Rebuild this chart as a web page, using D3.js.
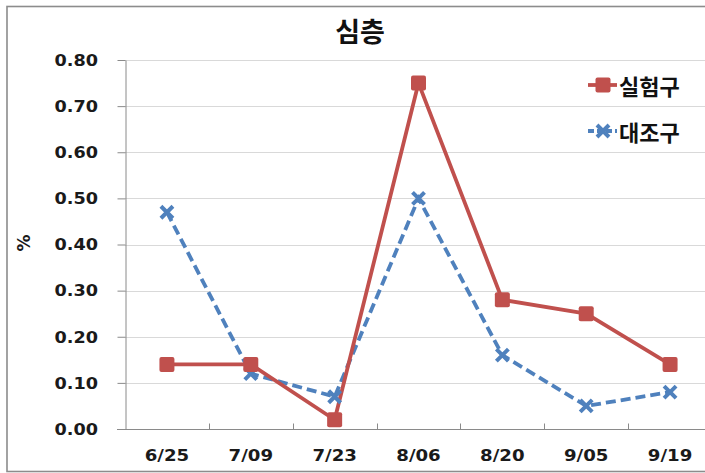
<!DOCTYPE html>
<html>
<head>
<meta charset="utf-8">
<script src="https://cdn.jsdelivr.net/npm/d3@7"></script>
<style>
  html, body { margin: 0; padding: 0; background: #fff; }
  svg { display: block; }
</style>
</head>
<body>
<svg id="chart" width="705" height="473"></svg>
<script>
// Sampling dates and measured percentages for the deep layer
const categories = ["6/25", "7/09", "7/23", "8/06", "8/20", "9/05", "9/19"];
const expValues  = [0.14, 0.14, 0.02, 0.75, 0.28, 0.25, 0.14];   // 실험구
const ctrlValues = [0.47, 0.12, 0.07, 0.50, 0.16, 0.05, 0.08];   // 대조구
const yTicks     = [0.00, 0.10, 0.20, 0.30, 0.40, 0.50, 0.60, 0.70, 0.80];
const seriesNames = ["실험구", "대조구"];
const titleText = "심층";
const yLabel = "%";

const svg = d3.select("#chart");
const W = 705, H = 473;

const RED = "#C0504D", BLUE = "#4F81BD";
const AXIS = "#8a8a8a", GRID = "#d9d9d9";
const numFont = "'DejaVu Sans', Verdana, sans-serif";
const korFont = "'Noto Sans CJK KR', 'Noto Sans', sans-serif";

// outer chart frame
svg.append("rect")
  .attr("x", 7).attr("y", 6.5)
  .attr("width", W + 20).attr("height", 465)
  .attr("fill", "#fff")
  .attr("stroke", "#8c8c8c").attr("stroke-width", 1.6);

const plot = { left: 125, top: 60, bottom: 429, right: 712 };

const x = d3.scaleBand().domain(categories).range([plot.left, plot.right]).padding(0);
const y = d3.scaleLinear().domain([0, 0.8]).range([plot.bottom, plot.top]);
const cx = d => x(d) + x.bandwidth() / 2;

// horizontal gridlines
svg.append("g").selectAll("line")
  .data(yTicks.filter(t => t > 0))
  .join("line")
  .attr("x1", plot.left).attr("x2", W)
  .attr("y1", d => Math.round(y(d)) + 0.5).attr("y2", d => Math.round(y(d)) + 0.5)
  .attr("stroke", GRID).attr("stroke-width", 1);

// y axis with outward ticks
const yAxis = svg.append("g")
  .attr("transform", `translate(${plot.left + 0.5},0)`)
  .call(d3.axisLeft(y).tickValues(yTicks).tickSize(8).tickSizeOuter(0).tickFormat(""));
yAxis.selectAll("line").attr("stroke", AXIS);
yAxis.select(".domain").attr("stroke", AXIS);

// y tick labels, slightly widened
svg.append("g").selectAll("text")
  .data(yTicks)
  .join("text")
  .attr("transform", d => `translate(98,${y(d)}) scale(1.07,1)`)
  .attr("text-anchor", "end")
  .attr("dominant-baseline", "central")
  .attr("font-family", numFont).attr("font-weight", "bold")
  .attr("font-size", 16.5).attr("fill", "#1a1a1a")
  .text(d => d3.format(".2f")(d));

// x axis: baseline plus inward ticks at category boundaries
const xAxis = svg.append("g")
  .attr("transform", `translate(0,${plot.bottom + 0.5})`)
  .call(d3.axisTop(x).tickSize(0).tickSizeOuter(0).tickFormat(""));
xAxis.select(".domain").remove();
xAxis.append("line")
  .attr("x1", plot.left - 8).attr("x2", W)
  .attr("stroke", AXIS);
xAxis.selectAll(".bnd")
  .data(categories.slice(1))
  .join("line").attr("class", "bnd")
  .attr("x1", d => Math.round(x(d)) + 0.5).attr("x2", d => Math.round(x(d)) + 0.5)
  .attr("y1", 0).attr("y2", -6)
  .attr("stroke", AXIS);

// x tick labels
svg.append("g").selectAll("text")
  .data(categories)
  .join("text")
  .attr("transform", d => `translate(${cx(d)},455) scale(1.1,1)`)
  .attr("text-anchor", "middle")
  .attr("dominant-baseline", "central")
  .attr("font-family", numFont).attr("font-weight", "bold")
  .attr("font-size", 16.5).attr("fill", "#1a1a1a")
  .text(d => d);

// title
svg.append("text")
  .attr("x", 360).attr("y", 30)
  .attr("text-anchor", "middle").attr("dominant-baseline", "central")
  .attr("font-family", korFont).attr("font-weight", "bold")
  .attr("font-size", 27).attr("fill", "#111")
  .text(titleText);

// y axis title
svg.append("text")
  .attr("transform", "translate(24,243) rotate(-90)")
  .attr("text-anchor", "middle").attr("dominant-baseline", "central")
  .attr("font-family", numFont).attr("font-weight", "bold")
  .attr("font-size", 17).attr("fill", "#1a1a1a")
  .text(yLabel);

const line = d3.line().x(d => cx(d.c)).y(d => y(d.v));
const expData = categories.map((c, i) => ({ c, v: expValues[i] }));
const ctrlData = categories.map((c, i) => ({ c, v: ctrlValues[i] }));

// 대조구: dashed blue line with cross markers
svg.append("path").datum(ctrlData)
  .attr("d", line).attr("fill", "none")
  .attr("stroke", BLUE).attr("stroke-width", 3.8)
  .attr("stroke-dasharray", "10,5");

// 실험구: solid red line with square markers
svg.append("path").datum(expData)
  .attr("d", line).attr("fill", "none")
  .attr("stroke", RED).attr("stroke-width", 3.8)
  .attr("stroke-linejoin", "round");

function cross(g, px, py) {
  const s = 6;
  g.append("path")
    .attr("d", `M${px - s},${py - s}L${px + s},${py + s}M${px - s},${py + s}L${px + s},${py - s}`)
    .attr("stroke", BLUE).attr("stroke-width", 4).attr("fill", "none");
}
function square(g, px, py) {
  g.append("rect")
    .attr("x", px - 7.5).attr("y", py - 7.5)
    .attr("width", 15).attr("height", 15).attr("rx", 2)
    .attr("fill", RED);
}

const ctrlMarks = svg.append("g");
ctrlData.forEach(d => cross(ctrlMarks, cx(d.c), y(d.v)));
const expMarks = svg.append("g");
expData.forEach(d => square(expMarks, cx(d.c), y(d.v)));

// legend
const legend = svg.append("g");
const legendRows = [
  { name: seriesNames[0], color: RED, dash: null, mark: square, ly: 85 },
  { name: seriesNames[1], color: BLUE, dash: "6,3", mark: cross, ly: 131 }
];
legendRows.forEach(r => {
  legend.append("line")
    .attr("x1", 588).attr("x2", 617)
    .attr("y1", r.ly).attr("y2", r.ly)
    .attr("stroke", r.color).attr("stroke-width", 3.8)
    .attr("stroke-dasharray", r.dash);
  r.mark(legend, 603, r.ly);
  legend.append("text")
    .attr("x", 619).attr("y", r.ly)
    .attr("dominant-baseline", "central")
    .attr("font-family", korFont).attr("font-weight", 700)
    .attr("font-size", 22).attr("fill", "#111")
    .text(r.name);
});
</script>
</body>
</html>
